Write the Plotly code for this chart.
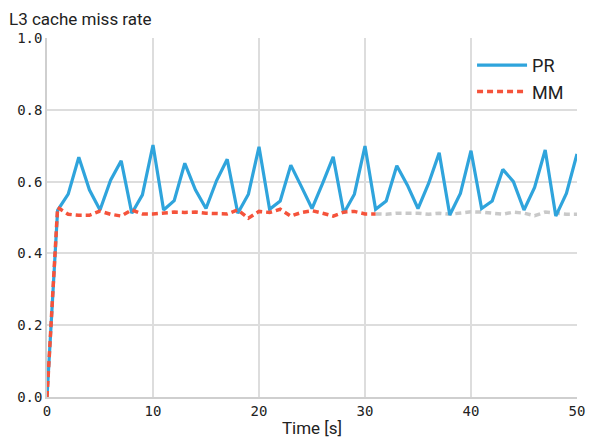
import plotly.graph_objects as go

time_s = list(range(0, 51))
pr_rate = [0.0, 0.52, 0.565, 0.668, 0.577, 0.521, 0.604, 0.658, 0.512, 0.563,
           0.702, 0.521, 0.547, 0.651, 0.577, 0.525, 0.603, 0.662, 0.512, 0.565,
           0.697, 0.523, 0.546, 0.646, 0.586, 0.525, 0.595, 0.669, 0.512, 0.565,
           0.699, 0.523, 0.546, 0.644, 0.59, 0.525, 0.595, 0.68, 0.507, 0.567,
           0.686, 0.525, 0.546, 0.634, 0.6, 0.521, 0.584, 0.688, 0.504, 0.567,
           0.677]
mm_time = list(range(0, 32))
mm_rate = [0.0, 0.528, 0.509, 0.506, 0.506, 0.518, 0.509, 0.504, 0.521, 0.51,
           0.51, 0.513, 0.515, 0.514, 0.515, 0.512, 0.51, 0.51, 0.521, 0.498,
           0.517, 0.514, 0.523, 0.504, 0.514, 0.519, 0.512, 0.504, 0.515, 0.517,
           0.51, 0.51]
mm_tail_time = list(range(31, 51))
mm_tail_rate = [0.51, 0.509, 0.512, 0.513, 0.512, 0.509, 0.512, 0.509, 0.513, 0.516,
                0.515, 0.512, 0.509, 0.515, 0.512, 0.505, 0.515, 0.512, 0.509, 0.509]

fig = go.Figure()
fig.add_trace(go.Scatter(x=mm_tail_time, y=mm_tail_rate, mode="lines", showlegend=False,
                         line=dict(color="#c9c9c9", width=3.5, dash="6px,4px")))
fig.add_trace(go.Scatter(x=time_s, y=pr_rate, mode="lines", name="PR",
                         line=dict(color="#2fa4dc", width=3.2)))
fig.add_trace(go.Scatter(x=mm_time, y=mm_rate, mode="lines", name="MM",
                         line=dict(color="#f5533b", width=3.5, dash="6px,4px")))

tickfont = dict(family="DejaVu Sans Mono", size=14, color="#222")
fig.update_layout(
    width=590, height=439,
    margin=dict(l=47, r=13, t=38, b=42, autoexpand=False),
    paper_bgcolor="white", plot_bgcolor="white",
    xaxis=dict(range=[0, 50], tickvals=[0, 10, 20, 30, 40, 50], showgrid=True,
               gridcolor="#dddddd", gridwidth=1.5, zeroline=False, automargin=False,
               showline=True, linecolor="#cfcfcf", linewidth=1.5,
               tickfont=tickfont, ticks="",
               title=dict(text="Time [s]", font=dict(family="Roboto", size=17, color="#222"), standoff=5)),
    yaxis=dict(range=[0, 1.0], tickvals=[0, 0.2, 0.4, 0.6, 0.8, 1.0], tickformat=".1f",
               showgrid=True, gridcolor="#dddddd", gridwidth=1.5, zeroline=False, automargin=False,
               showline=True, linecolor="#cfcfcf", linewidth=1.5,
               tickfont=tickfont, ticks=""),
    legend=dict(x=0.985, y=0.975, xanchor="right", yanchor="top",
                font=dict(family="Roboto", size=18, color="#222"),
                bgcolor="rgba(255,255,255,0)", itemwidth=50, tracegroupgap=0),
    showlegend=True,
)
fig.add_annotation(text="L3 cache miss rate", xref="paper", yref="paper", x=0, y=1,
                   xshift=-40, yshift=7, xanchor="left", yanchor="bottom", showarrow=False,
                   font=dict(family="Roboto", size=17, color="#222"))
fig.write_html("out.html")
